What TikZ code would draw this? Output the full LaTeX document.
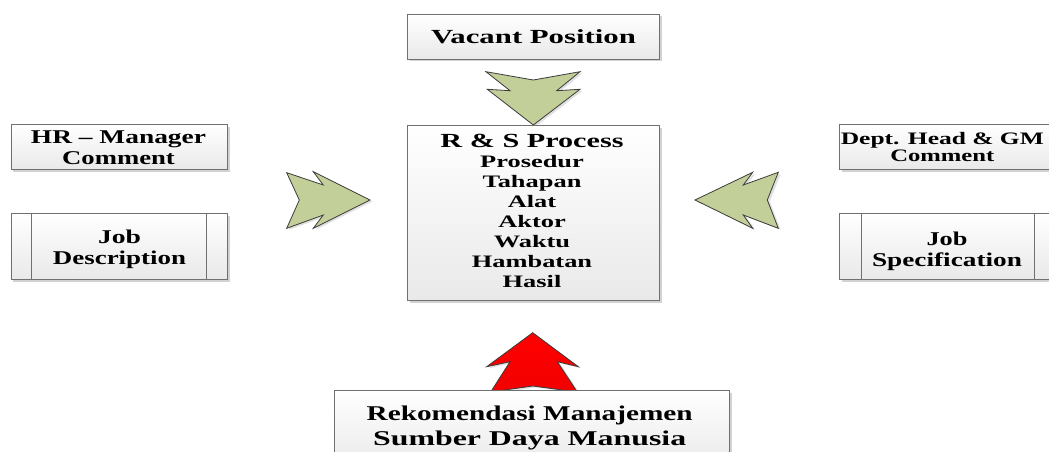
\documentclass[tikz,border=0pt]{standalone}
\usepackage{fontspec}
\setmainfont{Liberation Serif}
\usepackage{graphicx}
\usetikzlibrary{shadows}
\definecolor{boxline}{HTML}{707070}
\definecolor{boxbot}{HTML}{E9E9E9}
\definecolor{arrowgreen}{HTML}{C2CF98}
\definecolor{arrowline}{HTML}{3C3C3C}
\definecolor{arrowred}{HTML}{F20000}
\newcommand\sline[2]{\resizebox{#1pt}{\height}{#2}}
\begin{document}
\begin{tikzpicture}[x=1pt,y=-1pt,
  box/.style={draw=boxline, line width=0.9pt, top color=white, bottom color=boxbot,
    drop shadow={shadow xshift=2.5pt, shadow yshift=-2.5pt, opacity=0.25, fill=black!70},
    inner sep=0pt},
  lbl/.style={inner sep=0pt, anchor=base},
  greenarrow/.style={draw=arrowline, line width=0.8pt, line join=miter, fill=arrowgreen,
    drop shadow={shadow xshift=2.5pt, shadow yshift=-1.5pt, opacity=0.2, fill=black!60}},
  redarrow/.style={draw=arrowline, line width=0.8pt, line join=miter, top color=red, bottom color=arrowred,
    drop shadow={shadow xshift=2.5pt, shadow yshift=-1.5pt, opacity=0.2, fill=black!60}},
]
\clip (0,0) rectangle (1049,452);
\fill[white] (0,0) rectangle (1049,452);

% block arrows
\path[greenarrow] (486,71.7) -- (533.3,80) -- (580,71.7) -- (556.7,90.7) -- (580,89.3)
  -- (533.3,125) -- (487.3,89.3) -- (510,90.7) -- cycle;
\path[greenarrow] (286.7,172.7) -- (323.3,185) -- (313.3,171.7) -- (370,200)
  -- (313.3,228.3) -- (323.3,215) -- (286.7,228.3) -- (299.3,200) -- cycle;
\path[greenarrow] (778.3,172.3) -- (743.3,185) -- (752.7,172.3) -- (695,200)
  -- (752.7,228.3) -- (743.3,215) -- (778.3,228.3) -- (767.3,200) -- cycle;
\path[redarrow] (490.7,392) -- (510,361.7) -- (486.7,366.7) -- (532.7,332.7)
  -- (578.3,366.7) -- (557.3,361.7) -- (577.3,392) -- (532.7,386) -- cycle;

% boxes
\node[box, minimum width=252pt, minimum height=45pt] (vac) at (533,36.5) {};
\node[box, minimum width=252pt, minimum height=175pt] (rs) at (533,212.5) {};
\node[box, minimum width=216.7pt, minimum height=45.3pt] (hr) at (119.3,146.7) {};
\node[box, minimum width=216.7pt, minimum height=65.7pt] (jd) at (119.3,246.2) {};
\node[box, minimum width=217pt, minimum height=45.3pt] (dh) at (947.5,146.7) {};
\node[box, minimum width=217pt, minimum height=65.7pt] (js) at (947.5,246.2) {};
\node[box, minimum width=395.3pt, minimum height=80pt] (rek) at (531.7,430.3) {};

% inner bars of the process boxes
\draw[boxline, line width=0.9pt] ([xshift=21pt]jd.north west) -- ([xshift=21pt]jd.south west);
\draw[boxline, line width=0.9pt] ([xshift=-22pt]jd.north east) -- ([xshift=-22pt]jd.south east);
\draw[boxline, line width=0.9pt] ([xshift=22.5pt]js.north west) -- ([xshift=22.5pt]js.south west);
\draw[boxline, line width=0.9pt] ([xshift=-22pt]js.north east) -- ([xshift=-22pt]js.south east);

% texts
\node[lbl, font=\bfseries\fontsize{20}{20}\selectfont] (tvac) at (533.5,43.5) {\sline{205}{Vacant Position}};
\node[lbl, font=\bfseries\fontsize{19.5}{21}\selectfont] (thr) at (118.5,143.5)
  {\begin{tabular}[t]{@{}c@{}}\sline{175}{HR -- Manager}\\\sline{112.7}{Comment}\end{tabular}};
\node[lbl, font=\bfseries\fontsize{19.5}{21}\selectfont] (tjd) at (119.5,243)
  {\begin{tabular}[t]{@{}c@{}}\sline{43}{Job}\\\sline{133}{Description}\end{tabular}};
\node[lbl, font=\bfseries\fontsize{17.5}{17}\selectfont] (tdh) at (942.3,144)
  {\begin{tabular}[t]{@{}c@{}}\sline{203}{Dept. Head \& GM}\\\sline{104}{Comment}\end{tabular}};
\node[lbl, font=\bfseries\fontsize{19.5}{21}\selectfont] (tjs) at (947,245)
  {\begin{tabular}[t]{@{}c@{}}\sline{41}{Job}\\\sline{150}{Specification}\end{tabular}};
\node[lbl, font=\bfseries\fontsize{17.5}{20}\selectfont] (trs) at (532,147.5)
  {\resizebox{183pt}{\height}{\begin{tabular}[t]{@{}c@{}}{\fontsize{20}{20}\selectfont R \& S Process}\\Prosedur\\Tahapan\\Alat\\Aktor\\Waktu\\Hambatan\\Hasil\end{tabular}}};
\node[lbl, font=\bfseries\fontsize{21}{25.5}\selectfont] (trek) at (529.7,420)
  {\begin{tabular}[t]{@{}c@{}}\sline{326}{Rekomendasi Manajemen}\\\sline{313}{Sumber Daya Manusia}\end{tabular}};
\end{tikzpicture}
\end{document}
